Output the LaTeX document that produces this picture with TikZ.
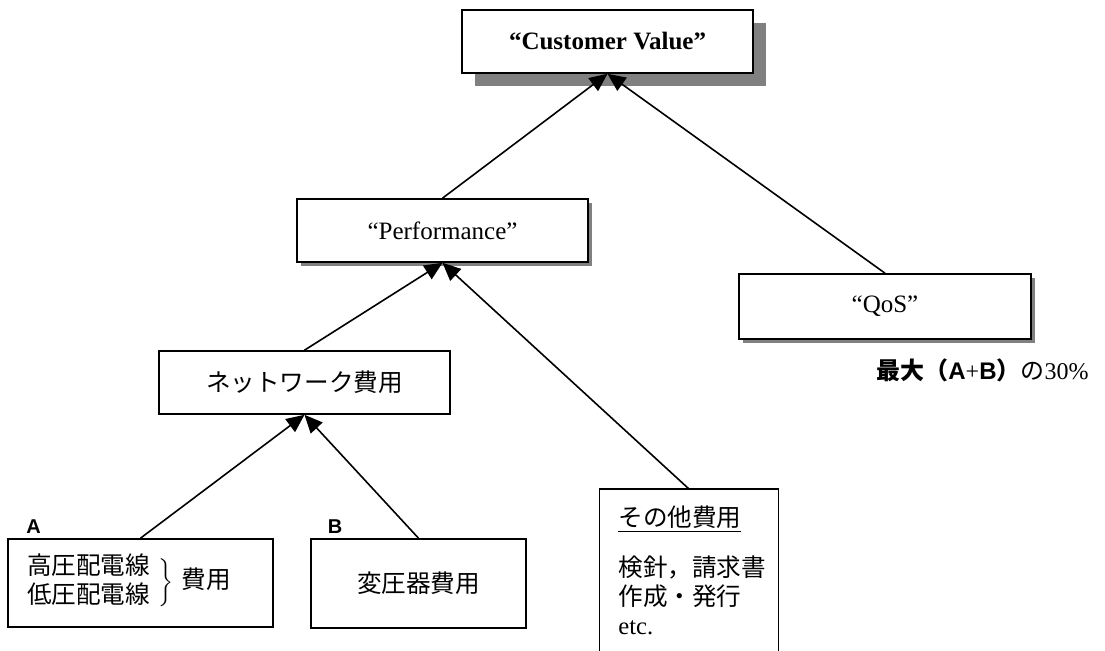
\documentclass[tikz,border=0pt]{standalone}
\usepackage{fontspec}
\setmainfont{Liberation Serif}
\setsansfont{Liberation Sans}
\newfontfamily\jp{Noto Sans CJK JP}
\usetikzlibrary{arrows.meta, shadows}
\tikzset{
  valblock/.style={
    rectangle,
    draw=black,
    line width=0.8pt,
    fill=white,
    text centered,
    minimum width=145.5pt,
    minimum height=31.5pt,
    font=\fontsize{12.5}{15}\selectfont,
  },
  bigshadow/.style={
    drop shadow={shadow xshift=6.5pt, shadow yshift=-6.5pt, fill=black!50, opacity=1}
  },
  smallshadow/.style={
    drop shadow={shadow xshift=2pt, shadow yshift=-2pt, fill=black!50, opacity=1}
  },
  costblock/.style={
    rectangle,
    draw=black,
    line width=0.8pt,
    fill=white,
    text centered,
    inner sep=0pt,
    font=\jp\fontsize{12.3}{14.5}\selectfont,
  },
  costtext/.style={
    inner sep=0pt,
    align=left,
    font=\jp\fontsize{12.3}{14.5}\selectfont,
  },
  tagtext/.style={
    inner sep=0pt,
    font=\sffamily\bfseries\fontsize{10}{12}\selectfont,
  },
  arrow/.style={
    -{Triangle[length=9pt,width=8pt]},
    line width=0.8pt
  },
  link/.style={
    line width=0.8pt
  }
}

\begin{document}
\begin{tikzpicture}[x=0.5pt, y=-0.5pt]
  \useasboundingbox (0,0) rectangle (1105,651);

  % Top level
  \node [valblock, bigshadow, font=\bfseries\fontsize{12.5}{15}\selectfont] (cv) at (607.5,41.5)
        {“Customer Value”};

  % Second level
  \node [valblock, smallshadow] (perf) at (442.5,230.5) {“Performance”};
  \node [valblock, smallshadow, minimum width=146pt, minimum height=32.5pt] (qos) at (885,306.5)
        {“QoS”};
  \node [anchor=north west, inner sep=0pt, font=\fontsize{12}{14}\selectfont] (qosnote) at (876,358)
        {{\jp\bfseries 最大（}{\sffamily\bfseries A}+{\sffamily\bfseries B}{\jp\bfseries ）}{\jp の}30\%};

  % Cost items
  \node [costblock, minimum width=145.5pt, minimum height=31.5pt] (net) at (304.5,382.5)
        {ネットワーク費用};
  \node [costblock, minimum width=132.5pt, minimum height=44pt] (hv) at (140.5,583) {};
  \node [costtext] (hvtext) at (129,583)
        {\begin{tabular}{@{}l@{}}高圧配電線\\低圧配電線\end{tabular}\hspace{3pt}$\left.\rule[-9.75pt]{0pt}{19.5pt}\right\}$\hspace{4pt}費用};
  \node [costblock, minimum width=107.5pt, minimum height=44.5pt] (trans) at (418.5,583.5)
        {変圧器費用};
  \node [tagtext] (atag) at (33.5,527) {A};
  \node [tagtext] (btag) at (335,527) {B};

  % Other costs (box runs off the bottom)
  \node [inner sep=0pt, minimum width=89pt, minimum height=81pt, anchor=north] (other) at (689,489) {};
  \draw [link] (other.south west) |- (other.north east) -- (other.south east);
  \node [costtext, anchor=north west] (othertext) at (618,505)
        {\underline{その他費用}\\[10.5pt]検針，請求書\\作成・発行\\{\rmfamily etc.}};

  % Links
  \draw [arrow] (perf.north)  -- (cv.south);
  \draw [arrow] (qos.north)   -- (cv.south);
  \draw [arrow] (net.north)   -- (perf.south);
  \draw [arrow] (other.north) -- (perf.south);
  \draw [arrow] (hv.north)    -- (net.south);
  \draw [arrow] (trans.north) -- (net.south);
\end{tikzpicture}
\end{document}
